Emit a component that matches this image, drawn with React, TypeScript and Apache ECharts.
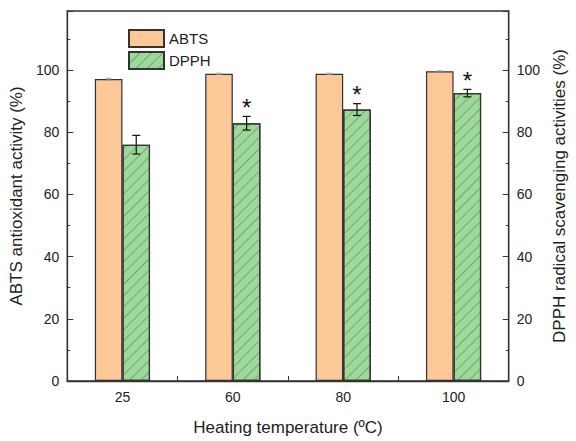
import React, { useEffect, useRef } from "react";
import * as echarts from "echarts";

const categories = ["25", "60", "80", "100"];
const abts = [97.1, 98.8, 98.8, 99.6];
const abtsErr = [0.3, 0.2, 0.2, 0.2];
const dpph = [76.0, 82.9, 87.3, 92.6];
const dpphErr = [3.0, 2.2, 1.9, 1.2];
const significance = ["", "*", "*", "*"];

const FONT = "'Liberation Sans', Arial, sans-serif";
const AXIS_COLOR = "#333";

export default function App() {
  const ref = useRef<HTMLDivElement>(null);
  useEffect(() => {
    document.body.style.margin = "0";
    const chart = echarts.init(ref.current!, null, { renderer: "svg" });
    const errData: any[] = [];
    categories.forEach((_, i) => {
      errData.push([i, abts[i], abtsErr[i], -1]);
      errData.push([i, dpph[i], dpphErr[i], 1]);
    });
    const yAxisCommon = {
      type: "value",
      min: 0,
      max: 119,
      interval: 20,
      splitLine: { show: false },
      axisLine: { show: true, lineStyle: { color: AXIS_COLOR, width: 1.3 } },
      axisTick: { show: true, inside: true, length: 6, lineStyle: { color: AXIS_COLOR } },
      minorTick: { show: true, splitNumber: 2, length: 3, lineStyle: { color: AXIS_COLOR } },
      axisLabel: {
        fontFamily: FONT,
        fontSize: 14,
        color: "#222",
        formatter: (v: number) => (v % 20 === 0 && v <= 100 ? String(v) : ""),
      },
      nameLocation: "middle",
      nameRotate: 90,
      nameTextStyle: { fontFamily: FONT, fontSize: 17, color: "#222" },
    };
    const decal = {
      symbol: "rect",
      symbolSize: 1,
      dashArrayX: [1, 0],
      dashArrayY: [1, 7],
      rotation: -Math.PI / 4,
      color: "rgba(60,130,60,0.5)",
    };
    chart.setOption({
      animation: false,
      grid: {
        left: 62,
        right: 53,
        top: 11,
        bottom: 57,
        show: true,
        borderColor: AXIS_COLOR,
        borderWidth: 1.3,
      },
      legend: {
        orient: "vertical",
        left: 123,
        top: 24,
        icon: "rect",
        itemWidth: 35,
        itemHeight: 17,
        itemGap: 3,
        textStyle: { fontFamily: FONT, fontSize: 15, color: "#222" },
        data: ["ABTS", "DPPH"],
      },
      xAxis: {
        type: "category",
        data: categories,
        axisLine: { lineStyle: { color: AXIS_COLOR, width: 1.3 } },
        axisTick: { show: true, inside: true, length: 5, lineStyle: { color: AXIS_COLOR } },
        axisLabel: { fontFamily: FONT, fontSize: 14, color: "#222", margin: 9 },
        name: "Heating temperature (\u00baC)",
        nameLocation: "middle",
        nameGap: 38,
        nameTextStyle: { fontFamily: FONT, fontSize: 17, color: "#222" },
      },
      yAxis: [
        { ...yAxisCommon, position: "left", name: "ABTS antioxidant activity (%)", nameGap: 36 },
        { ...yAxisCommon, position: "right", name: "DPPH radical scavenging activities (%)", nameGap: 38 },
      ],
      series: [
        {
          name: "ABTS",
          type: "bar",
          data: abts,
          yAxisIndex: 0,
          barWidth: "25%",
          barGap: "0%",
          itemStyle: { color: "#FDC897", borderColor: "#333", borderWidth: 1.2 },
        },
        {
          name: "DPPH",
          type: "bar",
          data: dpph,
          yAxisIndex: 1,
          barWidth: "25%",
          barGap: "0%",
          itemStyle: {
            color: "#9ED89A",
            borderColor: "#333",
            borderWidth: 1.2,
            decal,
          },
        },
        {
          type: "custom",
          yAxisIndex: 0,
          silent: true,
          z: 5,
          data: errData,
          renderItem: (params: any, api: any) => {
            const idx = api.value(0);
            const val = api.value(1);
            const err = api.value(2);
            const side = api.value(3);
            const star = significance[idx];
            const bandW = api.size([1, 0])[0];
            const cx = api.coord([idx, val])[0] + side * bandW * 0.125;
            const yTop = api.coord([idx, val + err])[1];
            const yBot = api.coord([idx, val - err])[1];
            const isMain = side > 0;
            const cap = isMain ? 4 : 3;
            const style = isMain
              ? { stroke: "#111", lineWidth: 1.2 }
              : { stroke: "#999", lineWidth: 0.8 };
            const children: any[] = [
              { type: "line", shape: { x1: cx, y1: yTop, x2: cx, y2: yBot }, style },
              { type: "line", shape: { x1: cx - cap, y1: yTop, x2: cx + cap, y2: yTop }, style },
              { type: "line", shape: { x1: cx - cap, y1: yBot, x2: cx + cap, y2: yBot }, style },
            ];
            if (isMain && star) {
              children.push({
                type: "text",
                style: {
                  text: star,
                  x: cx,
                  y: yTop + 3,
                  align: "center",
                  verticalAlign: "bottom",
                  fontFamily: FONT,
                  fontSize: 24,
                  fill: "#111",
                },
              });
            }
            return { type: "group", children };
          },
        },
      ],
    });
    return () => chart.dispose();
  }, []);
  return (
    <div
      ref={ref}
      style={{ width: 576, height: 441, position: "absolute", left: 0, top: 0 }}
    />
  );
}
